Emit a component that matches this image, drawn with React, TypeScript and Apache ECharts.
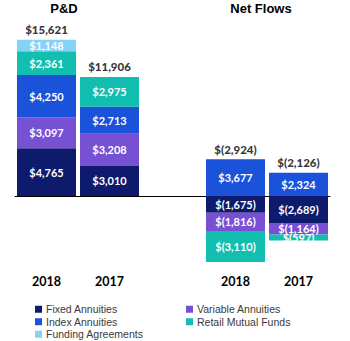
import React, { useEffect, useRef } from "react";
import * as echarts from "echarts";

const categories = ["P&D 2018", "P&D 2017", "", "Net 2018", "Net 2017"];
const yearLabels = ["2018", "2017", "", "2018", "2017"];
const fixedAnnuities = [4765, 3010, null, -1675, -2689];
const variableAnnuities = [3097, 3208, null, -1816, -1164];
const indexAnnuities = [4250, 2713, null, 3677, 2324];
const retailMutualFunds = [2361, 2975, null, -3110, -597];
const fundingAgreements = [1148, null, null, null, null];
const totals = [15621, 11906, null, -2924, -2126];

const seriesDefs = [
  { name: "Fixed Annuities", data: fixedAnnuities, color: "#0E1A6C" },
  { name: "Variable Annuities", data: variableAnnuities, color: "#7750D4" },
  { name: "Index Annuities", data: indexAnnuities, color: "#1A52DA" },
  { name: "Retail Mutual Funds", data: retailMutualFunds, color: "#12BEB0" },
  { name: "Funding Agreements", data: fundingAgreements, color: "#84D2F5" },
];

// legend placement: [name, left, top]
const legendSlots: [string, number, number][] = [
  ["Fixed Annuities", 35, 303],
  ["Variable Annuities", 186, 303],
  ["Index Annuities", 35, 315.5],
  ["Retail Mutual Funds", 186, 315.5],
  ["Funding Agreements", 35, 328],
];

const fmt = (v: number) =>
  v >= 0
    ? "$" + v.toLocaleString("en-US")
    : "$(" + Math.abs(v).toLocaleString("en-US") + ")";

const labelFont = "Lato, 'Open Sans', sans-serif";

export default function App() {
  const ref = useRef<HTMLDivElement>(null);
  useEffect(() => {
    document.body.style.margin = "0";
    if (!ref.current) return;
    const chart = echarts.init(ref.current, undefined, { renderer: "svg" });
    const positiveTops = categories.map((_, i) => {
      let s = 0;
      let any = false;
      seriesDefs.forEach((d) => {
        const v = d.data[i];
        if (v != null) {
          any = true;
          if (v > 0) s += v;
        }
      });
      return any ? s : null;
    });
    const legendText = {
      fontFamily: "'Liberation Sans', Arial, sans-serif",
      fontSize: 10.5,
      lineHeight: 12.5,
      color: "#3a3a3a",
      padding: [0, 0, 0, -1],
    };
    chart.setOption({
      animation: false,
      grid: { left: 15, right: 20, top: 26, bottom: 75 },
      xAxis: [
        {
          type: "category",
          data: categories,
          axisLine: { onZero: true, lineStyle: { color: "#000", width: 1 } },
          axisTick: { show: false },
          axisLabel: { show: false },
        },
        {
          type: "category",
          data: yearLabels,
          position: "bottom",
          axisLine: { show: false, onZero: false },
          axisTick: { show: false },
          axisLabel: {
            show: true,
            interval: 0,
            margin: 9,
            color: "#000",
            fontFamily: labelFont,
            fontWeight: "bold",
            fontSize: 12.5,
          },
        },
      ],
      yAxis: {
        type: "value",
        min: -7000,
        max: 17000,
        show: false,
        splitLine: { show: false },
      },
      legend: legendSlots.map(([name, left, top]) => ({
        data: [name],
        orient: "horizontal",
        left,
        top,
        itemWidth: 7,
        itemHeight: 7,
        icon: "rect",
        padding: 0,
        textStyle: legendText,
      })),
      graphic: [
        {
          type: "text",
          x: 64,
          y: 8,
          style: {
            text: "P&D",
            align: "center",
            verticalAlign: "middle",
            font: "bold 13px 'Liberation Sans', Arial, sans-serif",
            fill: "#000",
          },
        },
        {
          type: "text",
          x: 261,
          y: 8,
          style: {
            text: "Net Flows",
            align: "center",
            verticalAlign: "middle",
            font: "bold 13px 'Liberation Sans', Arial, sans-serif",
            fill: "#000",
          },
        },
      ],
      series: [
        ...seriesDefs.map((d) => ({
          name: d.name,
          type: "bar",
          stack: "total",
          barWidth: 59,
          xAxisIndex: 0,
          data: d.data,
          itemStyle: { color: d.color },
          label: {
            show: true,
            position: "inside",
            color: "#fff",
            fontFamily: labelFont,
            fontWeight: "bold",
            fontSize: 11,
            formatter: (p: any) => (p.value == null || p.value === 0 ? "" : fmt(p.value)),
          },
        })),
        {
          name: "totals",
          type: "scatter",
          xAxisIndex: 0,
          symbolSize: 0,
          data: positiveTops,
          silent: true,
          label: {
            show: true,
            position: "top",
            distance: 4,
            color: "#000",
            fontFamily: labelFont,
            fontWeight: 900,
            fontSize: 11.5,
            formatter: (p: any) => {
              const t = totals[p.dataIndex];
              return t == null ? "" : fmt(t);
            },
          },
        },
      ],
    });
    return () => chart.dispose();
  }, []);
  return <div ref={ref} style={{ width: 350, height: 341 }} />;
}
